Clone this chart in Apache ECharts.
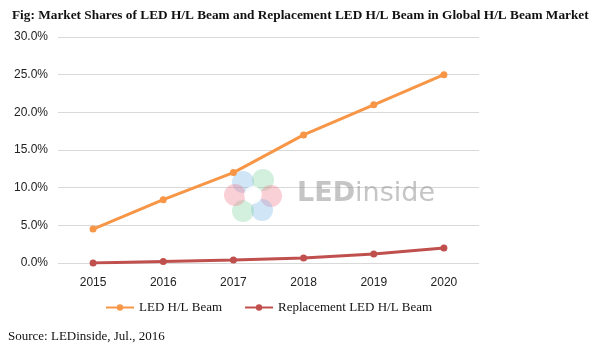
<!DOCTYPE html>
<html>
<head>
<meta charset="utf-8">
<script src="https://cdn.jsdelivr.net/npm/echarts@6/dist/echarts.min.js"></script>
<style>
  html, body { margin: 0; padding: 0; background: #fff; }
  #chart { width: 595px; height: 352px; }
</style>
</head>
<body>
<div id="chart"></div>
<script>
// 数据
var years = ['2015', '2016', '2017', '2018', '2019', '2020'];
var ledBeam = [4.5, 8.4, 12.0, 17.0, 21.0, 25.0];
var replacementBeam = [0.0, 0.2, 0.4, 0.65, 1.2, 2.0];
var yTicks = [0, 5, 10, 15, 20, 25, 30];

var myChart = echarts.init(document.getElementById('chart'));

var option = {
    backgroundColor: '#fff',
    animation: false,
    title: {
        text: 'Fig: Market Shares of LED H/L Beam and Replacement LED H/L Beam in Global H/L Beam Market',
        left: 7,
        top: 4,
        textStyle: {
            fontFamily: 'Liberation Serif',
            fontWeight: 'bold',
            fontSize: 13.3,
            color: '#111'
        }
    },
    grid: {
        left: 58,
        right: 116,
        top: 37,
        bottom: 89
    },
    legend: {
        bottom: 33,
        left: 100,
        itemWidth: 28,
        itemHeight: 8,
        itemGap: 22,
        textStyle: {
            fontFamily: 'Liberation Serif',
            fontSize: 13,
            color: '#111'
        },
        data: ['LED H/L Beam', 'Replacement LED H/L Beam']
    },
    xAxis: {
        type: 'category',
        data: years,
        boundaryGap: true,
        axisLine: { show: false },
        axisTick: { show: false },
        axisLabel: {
            fontFamily: 'Liberation Sans',
            fontSize: 12,
            color: '#222',
            margin: 14
        }
    },
    yAxis: {
        type: 'value',
        min: yTicks[0],
        max: yTicks[yTicks.length - 1],
        interval: 5,
        axisLine: { show: false },
        axisTick: { show: false },
        splitLine: { lineStyle: { color: '#d9d9d9', width: 1 } },
        axisLabel: {
            fontFamily: 'Liberation Sans',
            fontSize: 12,
            color: '#222',
            margin: 10,
            formatter: function (v) { return v.toFixed(1) + '%'; }
        }
    },
    graphic: [
        // LEDinside watermark
        { type: 'circle', shape: { cx: 243, cy: 182, r: 11 }, style: { fill: 'rgba(120,180,230,0.35)' }, z: 1 },
        { type: 'circle', shape: { cx: 263, cy: 180, r: 11 }, style: { fill: 'rgba(130,210,160,0.35)' }, z: 1 },
        { type: 'circle', shape: { cx: 271, cy: 196, r: 11 }, style: { fill: 'rgba(240,120,140,0.35)' }, z: 1 },
        { type: 'circle', shape: { cx: 262, cy: 210, r: 11 }, style: { fill: 'rgba(120,180,230,0.35)' }, z: 1 },
        { type: 'circle', shape: { cx: 243, cy: 211, r: 11 }, style: { fill: 'rgba(130,210,160,0.35)' }, z: 1 },
        { type: 'circle', shape: { cx: 235, cy: 195, r: 11 }, style: { fill: 'rgba(240,120,140,0.35)' }, z: 1 },
        { type: 'circle', shape: { cx: 253, cy: 195, r: 9 }, style: { fill: 'rgba(255,255,255,0.85)' }, z: 1 },
        {
            type: 'text', left: 297, top: 180, z: 1,
            style: {
                text: '{a|LED}{b|inside}',
                rich: {
                    a: { fontFamily: 'DejaVu Sans', fontWeight: 'bold', fontSize: 27, fill: 'rgba(150,150,150,0.55)' },
                    b: { fontFamily: 'DejaVu Sans', fontSize: 27, fill: 'rgba(150,150,150,0.55)' }
                }
            }
        },
        {
            type: 'text', left: 8, top: 330,
            style: {
                text: 'Source: LEDinside, Jul., 2016', fontFamily: 'Liberation Serif',
                fontSize: 13, fill: '#111'
            }
        }
    ],
    series: [
        {
            name: 'LED H/L Beam',
            type: 'line',
            data: ledBeam,
            symbol: 'circle',
            symbolSize: 7,
            color: '#F79646',
            lineStyle: { width: 3 },
            z: 3
        },
        {
            name: 'Replacement LED H/L Beam',
            type: 'line',
            data: replacementBeam,
            symbol: 'circle',
            symbolSize: 7,
            color: '#C0504D',
            lineStyle: { width: 3 },
            z: 3
        }
    ]
};

myChart.setOption(option);
</script>
</body>
</html>
